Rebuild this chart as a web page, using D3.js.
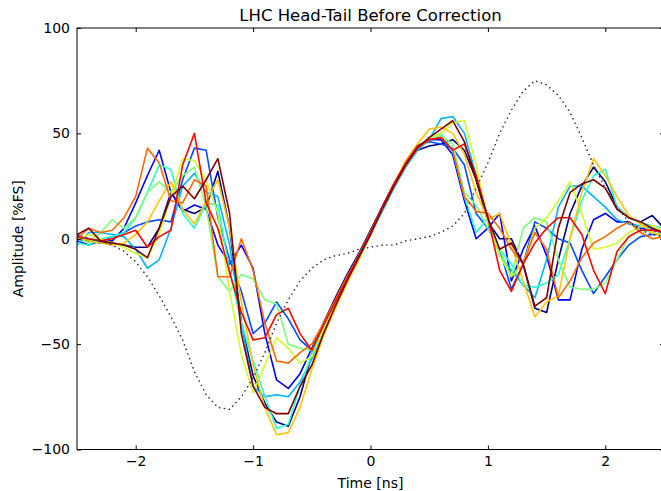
<!DOCTYPE html>
<html>
<head>
<meta charset="utf-8">
<script src="https://cdn.jsdelivr.net/npm/d3@7"></script>
<style>
    body { margin: 0; background: #fff; }
    text { font-family: 'DejaVu Sans', sans-serif; fill: #000; }
</style>
</head>
<body>
<div id="chart"></div>
<script>
// sample times [ns]
const timeNs = [-2.5, -2.4, -2.3, -2.2, -2.1, -2.0, -1.9, -1.8, -1.7, -1.6,
    -1.5, -1.4, -1.3, -1.2, -1.1, -1.0, -0.9, -0.8, -0.7, -0.6,
    -0.5, -0.4, -0.3, -0.2, -0.1, 0.0, 0.1, 0.2, 0.3, 0.4,
    0.5, 0.6, 0.7, 0.8, 0.9, 1.0, 1.1, 1.2, 1.3, 1.4,
    1.5, 1.6, 1.7, 1.8, 1.9, 2.0, 2.1, 2.2, 2.3, 2.4, 2.5];

// head-tail traces [%FS], one per turn
const trace0 = [0, -1, -2, -2, -3, -4, -4, 5, 22, 14, 12, 15, 32, 5, -40, -65, -78, -87, -89, -75, -55, -40, -28, -17, -7, 4, 15, 26, 36, 42, 44, 45, 47, 42, 28, 8, 0, 0, -12, -33, -35, -10, 12, 25, 34, 27, 15, 10, 8, 11, 5];
const trace1 = [-1, -3, -1, -1, 5, 17, 30, 42, 22, 13, 16, 14, -3, -12, -3, -14, -45, -67, -71, -64, -52, -40, -29, -18, -8, 3, 15, 26, 36, 44, 47, 47, 40, 18, 0, 5, 12, -20, -5, 6, -8, -29, -29, -5, 9, 12, 8, 8, 5, 4, 3];
const trace2 = [2, 0, -2, 1, 3, 6, 8, 9, 8, 28, 43, 42, 10, -10, -25, -45, -40, -30, -38, -48, -53, -41, -30, -19, -9, 2, 14, 25, 35, 44, 46, 45, 43, 35, 12, 5, -5, -24, -12, 8, 5, 0, -2, -15, -26, -18, -10, -3, 1, 2, 2];
const trace3 = [-3, 3, 3, 2, 1, -5, -14, -10, 5, 25, 31, 22, 20, -3, -40, -70, -75, -74, -75, -68, -57, -44, -32, -20, -9, 2, 13, 24, 34, 42, 47, 57, 58, 50, 30, 8, -8, -15, -22, -28, -10, 15, 25, 25, 20, 15, 9, 7, 6, 5, 2];
const trace4 = [-2, -3, 0, 1, 3, 10, 22, 35, 33, 12, 5, 17, 16, -15, -40, -58, -75, -90, -88, -70, -55, -42, -30, -19, -8, 3, 14, 25, 35, 43, 48, 50, 42, 20, 3, 10, -5, -12, -22, -23, -21, -17, 0, 18, 30, 33, 15, 10, 8, 6, 5];
const trace5 = [1, -2, 3, 9, 5, 10, 22, 27, 22, 30, 34, 15, -18, -25, -17, -19, -29, -31, -50, -52, -53, -41, -30, -19, -8, 3, 14, 25, 35, 43, 47, 49, 45, 22, 16, 5, -5, -18, 5, 10, 8, -10, -23, -24, -24, -21, -10, 1, 4, 3, 2];
const trace6 = [0, 2, 0, -2, -4, -7, -9, 2, 20, 38, 37, 28, 12, -25, -55, -73, -60, -47, -52, -59, -56, -43, -31, -20, -9, 2, 14, 25, 35, 43, 48, 50, 55, 56, 35, 8, -8, -18, -12, 5, 10, 18, 27, 12, -5, -4, -2, 3, 6, 6, 4];
const trace7 = [1, -1, -2, -3, -2, 2, 8, 18, 27, 14, 7, 18, 28, 5, -30, -60, -80, -93, -92, -80, -62, -46, -33, -21, -10, 2, 14, 26, 37, 45, 52, 53, 50, 40, 22, 9, 12, -3, -20, -37, -30, -27, 0, 22, 38, 30, 20, 11, 7, 3, 1];
const trace8 = [0, 5, 3, 4, 10, 20, 43, 36, 18, 17, 28, 25, -18, -18, 0, -15, -40, -58, -59, -54, -50, -40, -29, -18, -8, 3, 14, 25, 35, 43, 47, 48, 42, 20, 13, 12, 5, -5, -12, 3, -5, -28, -20, -9, -2, 1, 5, 8, 3, 0, 1];
const trace9 = [1, 0, -1, 0, 2, 4, -4, 1, 4, 35, 50, 17, 5, -16, -35, -48, -47, -36, -33, -45, -53, -41, -30, -19, -8, 3, 15, 26, 36, 44, 47, 48, 42, 45, 30, 10, -15, -25, -12, -2, 5, 10, 10, 2, -15, -26, -6, 1, 4, 4, 3];
const trace10 = [2, 5, -1, -2, -3, -5, -9, 5, 20, 25, 19, 28, 38, 12, -45, -70, -80, -83, -83, -70, -60, -45, -32, -20, -9, 2, 14, 25, 35, 43, 48, 52, 56, 46, 28, 10, -5, -2, -12, -32, -28, 5, 22, 26, 28, 24, 14, 10, 8, 5, 3];

// bunch profile (dotted)
const envelope = [0, 0, -1, -3, -6, -11, -18, -27, -37, -48, -63, -74, -80, -81, -75, -66, -54, -40, -29, -20, -14, -10, -8, -7, -5, -4, -3, -3, -1, 0, 1, 3, 6, 12, 24, 36, 50, 61, 70, 75, 73, 68, 60, 48, 35, 24, 15, 8, 4, 2, 1];

const traceColors = ['#000080', '#0000f3', '#004dff', '#00b3ff', '#29ffce', '#7dff7a',
    '#ceff29', '#ffc400', '#ff6800', '#f30900', '#800000'];

const xTicks = [-2, -1, 0, 1, 2];
const yTicks = [-100, -50, 0, 50, 100];

(function () {
    const width = 661;
    const height = 491;
    const plot = { left: 77, top: 28, right: 664, bottom: 449.5 };

    const traces = [trace0, trace1, trace2, trace3, trace4, trace5,
        trace6, trace7, trace8, trace9, trace10];

    const svg = d3.select('#chart')
        .append('svg')
        .attr('width', width)
        .attr('height', height);

    const x = d3.scaleLinear().domain([-2.5, 2.5]).range([plot.left, plot.right]);
    const y = d3.scaleLinear().domain([-100, 100]).range([plot.bottom, plot.top]);

    svg.append('clipPath')
        .attr('id', 'plot-clip')
        .append('rect')
        .attr('x', plot.left)
        .attr('y', plot.top)
        .attr('width', plot.right - plot.left)
        .attr('height', plot.bottom - plot.top);

    const line = d3.line()
        .x((d, i) => x(timeNs[i]))
        .y(d => y(d));

    const g = svg.append('g').attr('clip-path', 'url(#plot-clip)');

    g.selectAll('path.trace')
        .data(traces)
        .enter()
        .append('path')
        .attr('class', 'trace')
        .attr('d', line)
        .attr('fill', 'none')
        .attr('stroke', (d, i) => traceColors[i])
        .attr('stroke-width', 1.6)
        .attr('stroke-linejoin', 'round');

    g.append('path')
        .attr('d', line(envelope))
        .attr('fill', 'none')
        .attr('stroke', '#333')
        .attr('stroke-width', 1.6)
        .attr('stroke-linecap', 'round')
        .attr('stroke-dasharray', '0.1,4.8');

    // ticks point inwards on every side, like matplotlib classic
    const styleAxis = (sel) => {
        sel.select('.domain').remove();
        sel.selectAll('.tick line').attr('stroke', '#000');
        sel.selectAll('.tick text').style('font-size', '14px').attr('fill', '#000');
    };

    const intFormat = d3.format('d');

    svg.append('g')
        .attr('transform', `translate(0,${plot.bottom})`)
        .call(d3.axisBottom(x).tickValues(xTicks).tickSize(-4).tickPadding(7).tickFormat(intFormat))
        .call(styleAxis);

    svg.append('g')
        .attr('transform', `translate(0,${plot.top})`)
        .call(d3.axisTop(x).tickValues(xTicks).tickSize(-4).tickFormat(''))
        .call(styleAxis);

    svg.append('g')
        .attr('transform', `translate(${plot.left},0)`)
        .call(d3.axisLeft(y).tickValues(yTicks).tickSize(-4).tickPadding(7).tickFormat(intFormat))
        .call(styleAxis);

    svg.append('g')
        .attr('transform', `translate(${plot.right},0)`)
        .call(d3.axisRight(y).tickValues(yTicks).tickSize(-4).tickFormat(''))
        .call(styleAxis);

    svg.append('rect')
        .attr('x', plot.left)
        .attr('y', plot.top)
        .attr('width', plot.right - plot.left)
        .attr('height', plot.bottom - plot.top)
        .attr('fill', 'none')
        .attr('stroke', '#000')
        .attr('stroke-width', 1);

    const midX = (plot.left + plot.right) / 2;

    svg.append('text')
        .attr('x', midX)
        .attr('y', 21)
        .attr('text-anchor', 'middle')
        .style('font-size', '16.5px')
        .text('LHC Head-Tail Before Correction');

    svg.append('text')
        .attr('x', midX)
        .attr('y', 488)
        .attr('text-anchor', 'middle')
        .style('font-size', '14px')
        .text('Time [ns]');

    svg.append('text')
        .attr('transform', `translate(23,${(plot.top + plot.bottom) / 2}) rotate(-90)`)
        .attr('text-anchor', 'middle')
        .style('font-size', '14px')
        .text('Amplitude [%FS]');
})();
</script>
</body>
</html>
